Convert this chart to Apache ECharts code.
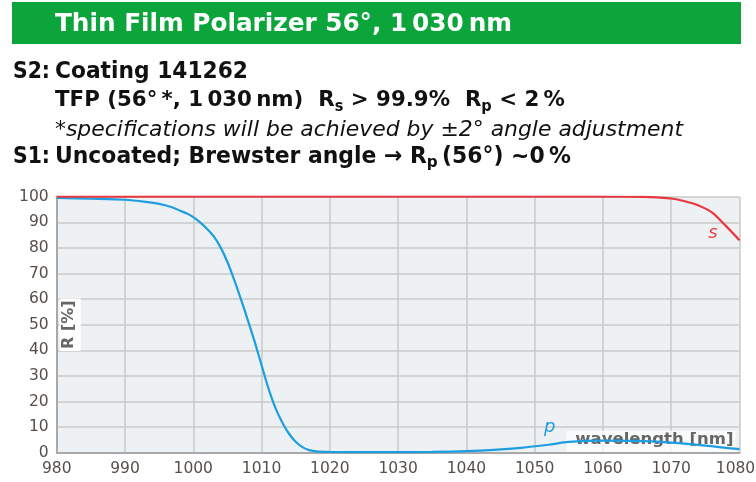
<!DOCTYPE html>
<html>
<head>
<meta charset="utf-8">
<script src="https://cdn.jsdelivr.net/npm/echarts@6/dist/echarts.min.js"></script>
<style>
  html, body { margin: 0; padding: 0; background: #ffffff; }
  #chart { width: 756px; height: 482px; }
</style>
</head>
<body>
<div id="chart"></div>
<script>
// Reflectance of the thin film polarizer vs. wavelength, s- and p-polarisation
const wavelengthTicks = [980, 990, 1000, 1010, 1020, 1030, 1040, 1050, 1060, 1070, 1080];
const reflectanceTicks = [0, 10, 20, 30, 40, 50, 60, 70, 80, 90, 100];

const pWavelength = [980, 985, 990, 993, 995, 997, 998, 999, 1000, 1001, 1002, 1003, 1004, 1005, 1006, 1007, 1008, 1009, 1010, 1011, 1012, 1013, 1014, 1015, 1016, 1017, 1018, 1020, 1025, 1030, 1035, 1040, 1044, 1048, 1052, 1055, 1060, 1065, 1070, 1075, 1080];
const pReflectance = [99.5, 99.2, 98.8, 98.0, 97.2, 95.8, 94.6, 93.5, 92.0, 90.0, 87.5, 84.5, 80.2, 74.5, 67.5, 59.8, 51.7, 43.3, 34.2, 25.2, 17.7, 12.0, 7.5, 4.3, 2.2, 1.0, 0.5, 0.3, 0.2, 0.2, 0.3, 0.6, 1.1, 1.9, 3.1, 4.2, 4.7, 4.6, 3.9, 2.8, 1.4];

const sWavelength = [980, 1000, 1020, 1040, 1060, 1066, 1068, 1070, 1072, 1074, 1076, 1078, 1080];
const sReflectance = [100, 100, 100, 100, 100, 99.9, 99.7, 99.3, 98.2, 96.6, 93.8, 88.6, 83.0];

const FONT = '"DejaVu Sans", "Open Sans", sans-serif';
const INK = '#111111';

// Measure a run of [text, cssFont] pieces so a header line can be fitted to its width
const measureCtx = document.createElement('canvas').getContext('2d');
function runWidth(pieces) {
  let w = 0;
  pieces.forEach(([t, f]) => { measureCtx.font = f; w += measureCtx.measureText(t).width; });
  return w;
}
function cssFont(weight, size, style) { return (style || 'normal') + ' ' + weight + ' ' + size + 'px ' + FONT; }

// Header text lines
const titleText = 'Thin Film Polarizer 56°, 1\u2009030\u2009nm';
const s2Label = 'S2:';
const s2Text = 'Coating 141262';
const specParts = [['TFP (56°\u2009*, 1\u2009030\u2009nm)  R', 'n'], ['s', 's'], [' > 99.9%  R', 'n'], ['p', 's'], [' < 2\u2009%', 'n']];
const noteText = '*specifications will be achieved by ±2° angle adjustment';
const s1Label = 'S1:';
const s1Parts = [['Uncoated; Brewster angle ', 'n'], ['\u2192', 'n'], [' R', 'n'], ['p', 's'], ['\u2009(56°) ~0\u2009%', 'n']];

function richLine(parts, mainSize, subSize) {
  const fonts = { n: cssFont('bold', mainSize), s: cssFont('bold', subSize) };
  const text = parts.map(([t, k]) => '{' + k + '|' + t + '}').join('');
  const width = runWidth(parts.map(([t, k]) => [t, fonts[k]]));
  const rich = {
    n: { fontFamily: FONT, fontWeight: 'bold', fontSize: mainSize, lineHeight: 28, verticalAlign: 'middle', fill: INK },
    s: { fontFamily: FONT, fontWeight: 'bold', fontSize: subSize, lineHeight: 17, verticalAlign: 'bottom', fill: INK }
  };
  return { text, width, rich };
}

function plainText(x, y, text, font, fill, targetWidth) {
  const s = targetWidth / runWidth([[text, font]]);
  return { type: 'text', x, y, scaleX: s, style: { text, fill, font, verticalAlign: 'middle' } };
}
function richText(x, y, line, targetWidth) {
  return { type: 'text', x, y, scaleX: targetWidth / line.width, style: { text: line.text, rich: line.rich, verticalAlign: 'middle' } };
}

const specLine = richLine(specParts, 22, 15);
const s1Line = richLine(s1Parts, 23, 16);

const xMax = wavelengthTicks[wavelengthTicks.length - 1];
const tickLabelStyle = { color: '#55504b', fontFamily: FONT, fontSize: 15.5 };

const chart = echarts.init(document.getElementById('chart'), null, { renderer: 'canvas' });

chart.setOption({
  animation: false,
  backgroundColor: '#ffffff',
  graphic: [
    { type: 'rect', shape: { x: 12, y: 2, width: 729, height: 42 }, style: { fill: '#0ba53b' } },
    plainText(55, 24.9, titleText, cssFont('bold', 24), '#ffffff', 457),
    plainText(13, 71.7, s2Label, cssFont('bold', 23), INK, 37),
    plainText(55, 71.7, s2Text, cssFont('bold', 23), INK, 193),
    richText(55, 100.4, specLine, 510),
    plainText(55, 130.7, noteText, cssFont('normal', 21, 'italic'), INK, 628),
    plainText(13, 156.7, s1Label, cssFont('bold', 23), INK, 37),
    richText(55, 156.7, s1Line, 516)
  ],
  grid: {
    left: 56.7, right: 16.5, top: 196.7, bottom: 29.3,
    outerBoundsMode: 'none', containLabel: false,
    show: true, backgroundColor: '#eef1f3', borderWidth: 0
  },
  xAxis: {
    type: 'value', min: wavelengthTicks[0], max: xMax, interval: 10,
    name: 'wavelength [nm]', nameLocation: 'end', nameGap: -4, nameMoveOverlap: false,
    nameTextStyle: {
      align: 'right', verticalAlign: 'bottom', fontFamily: FONT, fontWeight: 'bold', fontSize: 16.5, color: '#666666',
      backgroundColor: 'rgba(255,255,255,0.72)', padding: [1, 2, 4, 9]
    },
    axisLine: { show: true, lineStyle: { color: '#a9a9a9', width: 2 } },
    axisTick: { show: false },
    axisLabel: Object.assign({}, tickLabelStyle, {
      margin: 8,
      // keep the last wavelength label inside the page edge
      formatter: (v) => (v === xMax ? '{last|' + v + '}' : String(v)),
      rich: { last: Object.assign({}, tickLabelStyle, { padding: [0, 8, 0, 0] }) }
    }),
    splitLine: { show: true, lineStyle: { color: '#c8c8c8', width: 1.5 } }
  },
  yAxis: {
    type: 'value', min: reflectanceTicks[0], max: reflectanceTicks[reflectanceTicks.length - 1], interval: 10,
    name: 'R [%]', nameLocation: 'middle', nameRotate: 90, nameGap: -24, nameMoveOverlap: false,
    nameTextStyle: {
      fontFamily: FONT, fontWeight: 'bold', fontSize: 16, color: '#666666',
      backgroundColor: '#ffffff', padding: [1, 2, 4, 2]
    },
    axisLine: { show: true, lineStyle: { color: '#a9a9a9', width: 2 } },
    axisTick: { show: false },
    axisLabel: Object.assign({}, tickLabelStyle, { margin: 8, formatter: (v) => String(v) }),
    splitLine: { show: true, lineStyle: { color: '#c8c8c8', width: 1.5 } }
  },
  series: [
    {
      name: 'p', type: 'line', smooth: 0.3, showSymbol: false, z: 3,
      data: pWavelength.map((w, i) => [w, pReflectance[i]]),
      lineStyle: { color: '#1d9ee0', width: 2.2 },
      markPoint: {
        symbol: 'circle', symbolSize: 0,
        data: [{ coord: [1052.2, 10], label: { show: true, formatter: 'p', color: '#1d9ee0', fontFamily: FONT, fontStyle: 'italic', fontSize: 18, position: 'inside' } }]
      }
    },
    {
      name: 's', type: 'line', smooth: 0.3, showSymbol: false, z: 4,
      data: sWavelength.map((w, i) => [w, sReflectance[i]]),
      lineStyle: { color: '#e8383d', width: 2.2 },
      markPoint: {
        symbol: 'circle', symbolSize: 0,
        data: [{ coord: [1076.1, 85.5], label: { show: true, formatter: 's', color: '#e8383d', fontFamily: FONT, fontStyle: 'italic', fontSize: 18, position: 'inside' } }]
      }
    }
  ]
});
</script>
</body>
</html>
